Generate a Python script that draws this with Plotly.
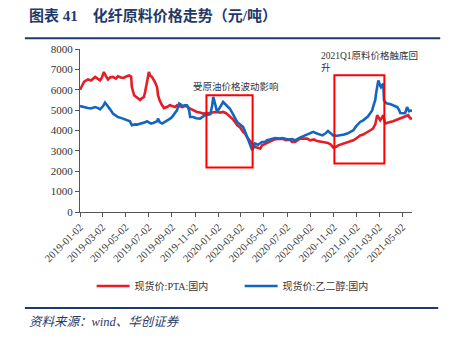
import plotly.graph_objects as go

pta_dates = ["2019-01-02","2019-01-05","2019-01-13","2019-01-23","2019-01-31","2019-02-11","2019-02-19","2019-02-24",
 "2019-03-01","2019-03-06","2019-03-12","2019-03-17","2019-03-22","2019-03-30","2019-04-07","2019-04-12","2019-04-20",
 "2019-04-26","2019-05-04","2019-05-12","2019-05-17","2019-05-19","2019-05-25","2019-05-30","2019-06-04","2019-06-10",
 "2019-06-15","2019-06-20","2019-06-23","2019-06-28","2019-07-03","2019-07-06","2019-07-11","2019-07-19","2019-07-25",
 "2019-07-27","2019-08-01","2019-08-07","2019-08-12","2019-08-20","2019-08-28","2019-09-02","2019-09-10","2019-09-15",
 "2019-09-23","2019-09-29","2019-10-07","2019-10-12","2019-10-20","2019-10-28","2019-11-07","2019-11-15","2019-11-23",
 "2019-12-04","2019-12-12","2019-12-20","2019-12-30","2020-01-07","2020-01-15","2020-01-23","2020-02-02","2020-02-10",
 "2020-02-21","2020-02-29","2020-03-08","2020-03-13","2020-03-18","2020-03-24","2020-04-01","2020-04-06","2020-04-08",
 "2020-04-16","2020-04-22","2020-04-27","2020-05-05","2020-05-13","2020-05-23","2020-05-31","2020-06-11","2020-06-19",
 "2020-06-29","2020-07-10","2020-07-15","2020-07-23","2020-08-05","2020-08-16","2020-08-24","2020-09-01","2020-09-11",
 "2020-09-19","2020-09-27","2020-10-08","2020-10-18","2020-10-26","2020-11-01","2020-11-09","2020-11-14","2020-11-24",
 "2020-12-08","2020-12-16","2020-12-24","2020-12-31","2021-01-11","2021-01-19","2021-01-29","2021-02-06","2021-02-14",
 "2021-02-20","2021-02-25","2021-03-02","2021-03-05","2021-03-10","2021-03-13","2021-03-18","2021-03-26","2021-03-31",
 "2021-04-08","2021-04-19","2021-04-27","2021-05-05","2021-05-13","2021-05-18","2021-05-23","2021-05-28"]
pta_vals = [6000,6130,6400,6510,6450,6630,6550,6460,
 6600,6870,6650,6510,6600,6630,6550,6660,6600,
 6580,6650,6700,6650,6130,5730,5650,5560,5500,
 5590,5650,5890,6300,6870,6700,6630,6380,6100,
 5730,5450,5240,5100,5150,5250,5200,5150,5240,
 5200,5150,5200,5180,5070,4980,4910,4880,4830,
 4850,4830,4900,4910,4880,4910,4850,4660,4550,
 4260,4150,3930,3850,3680,3550,3360,3250,3190,
 3150,3110,3270,3350,3440,3500,3570,3600,3600,
 3520,3550,3440,3440,3600,3580,3600,3520,3560,
 3480,3440,3420,3390,3300,3160,3200,3270,3330,
 3440,3480,3520,3600,3760,3800,3930,4000,4090,
 4300,4750,4600,4500,4650,4750,4340,4400,4420,
 4450,4530,4600,4660,4700,4750,4600,4580]

meg_dates = ["2019-01-02","2019-01-10","2019-01-23","2019-01-31","2019-02-11","2019-02-19","2019-02-24","2019-03-04",
 "2019-03-09","2019-03-14","2019-03-17","2019-03-22","2019-03-30","2019-04-07","2019-04-12","2019-04-20","2019-04-26",
 "2019-05-04","2019-05-09","2019-05-14","2019-05-19","2019-05-27","2019-06-02","2019-06-10","2019-06-15","2019-06-23",
 "2019-06-28","2019-07-03","2019-07-09","2019-07-14","2019-07-19","2019-07-25","2019-07-27","2019-08-01","2019-08-07",
 "2019-08-15","2019-08-20","2019-08-28","2019-09-02","2019-09-10","2019-09-15","2019-09-21","2019-09-26","2019-10-01",
 "2019-10-07","2019-10-12","2019-10-17","2019-10-20","2019-10-28","2019-11-05","2019-11-15","2019-11-23","2019-11-28",
 "2019-12-06","2019-12-12","2019-12-17","2019-12-20","2019-12-25","2019-12-30","2020-01-07","2020-01-15","2020-01-23",
 "2020-02-02","2020-02-10","2020-02-21","2020-02-29","2020-03-08","2020-03-13","2020-03-21","2020-03-26","2020-04-01",
 "2020-04-06","2020-04-08","2020-04-16","2020-04-27","2020-05-05","2020-05-10","2020-05-18","2020-05-31","2020-06-11",
 "2020-06-19","2020-06-27","2020-07-05","2020-07-15","2020-07-23","2020-08-05","2020-08-13","2020-08-24","2020-09-01",
 "2020-09-09","2020-09-19","2020-09-27","2020-10-03","2020-10-11","2020-10-18","2020-10-26","2020-11-01","2020-11-11",
 "2020-11-19","2020-11-30","2020-12-08","2020-12-16","2020-12-24","2020-12-31","2021-01-11","2021-01-19","2021-01-24",
 "2021-02-01","2021-02-06","2021-02-12","2021-02-14","2021-02-20","2021-02-22","2021-02-28","2021-03-05","2021-03-07",
 "2021-03-13","2021-03-15","2021-03-21","2021-03-23","2021-03-31","2021-04-06","2021-04-13","2021-04-19","2021-04-24",
 "2021-04-27","2021-05-05","2021-05-10","2021-05-15","2021-05-20","2021-05-28"]
meg_vals = [5200,5150,5100,5080,5150,5100,5040,5200,
 5370,5250,5150,5050,4830,4720,4660,4620,4580,
 4550,4500,4450,4260,4300,4290,4320,4340,4400,
 4450,4400,4340,4370,4400,4450,4580,4400,4340,
 4420,4500,4580,4660,4850,4990,5320,5250,5200,
 5250,5230,5000,4660,4660,4600,4580,4700,4750,
 4780,4800,5200,5650,5300,4910,5150,5400,5250,
 5070,4800,4420,4300,4170,3950,3520,3300,3030,
 3250,3360,3300,3440,3450,3520,3560,3630,3600,
 3630,3600,3560,3580,3520,3650,3720,3810,3850,
 3930,3850,3810,3760,3850,3980,3850,3760,3740,
 3760,3800,3850,3920,4010,4200,4420,4500,4580,
 4700,4830,5000,5150,5500,5810,6460,6200,6130,
 6300,5480,5350,5320,5300,5240,5200,5150,5000,
 4860,4850,4860,5150,4950,4990]

tick_dates = ["2019-01-02","2019-03-02","2019-05-02","2019-07-02","2019-09-02","2019-11-02",
              "2020-01-02","2020-03-02","2020-05-02","2020-07-02","2020-09-02","2020-11-02",
              "2021-01-02","2021-03-02","2021-05-02"]

series_names = ["现货价:PTA:国内", "现货价:乙二醇:国内"]

SERIF = "Liberation Serif, Noto Sans CJK SC, serif"
NAVY = "#1F3A6B"
RED = "#E41E26"
BLUE = "#1565C0"

fig = go.Figure()
fig.add_trace(go.Scatter(x=pta_dates, y=pta_vals, mode="lines", name=series_names[0],
                         line=dict(color=RED, width=2.6)))
fig.add_trace(go.Scatter(x=meg_dates, y=meg_vals, mode="lines", name=series_names[1],
                         line=dict(color=BLUE, width=2.6)))

# highlight boxes
fig.add_shape(type="rect", xref="x", yref="y", x0="2019-12-02", x1="2020-04-02", y0=2180, y1=5730,
              line=dict(color="#FF0000", width=2), fillcolor="rgba(0,0,0,0)")
fig.add_shape(type="rect", xref="x", yref="y", x0="2020-11-04", x1="2021-03-16", y0=2375, y1=6710,
              line=dict(color="#FF0000", width=2), fillcolor="rgba(0,0,0,0)")

# header / footer rules
fig.add_shape(type="line", xref="paper", yref="paper", x0=-0.166, x1=1.085, y0=1.066, y1=1.066,
              line=dict(color=NAVY, width=2))
fig.add_shape(type="line", xref="paper", yref="paper", x0=-0.166, x1=1.079, y0=-0.589, y1=-0.589,
              line=dict(color=NAVY, width=2))

fig.add_annotation(text="图表 41    化纤原料价格走势（元/吨）", xref="paper", yref="paper",
                   x=-0.16, y=1.207, xanchor="left", yanchor="middle", showarrow=False,
                   font=dict(family="Liberation Serif, Noto Sans CJK SC", size=15, color=NAVY, weight="bold"))
fig.add_annotation(text="<i>资料来源：wind、华创证券</i>", xref="paper", yref="paper",
                   x=-0.16, y=-0.677, xanchor="left", yanchor="middle", showarrow=False,
                   font=dict(family=SERIF, size=12.5, color=NAVY))
fig.add_annotation(text="受原油价格波动影响", xref="x", yref="y", x="2019-10-23", y=6184,
                   xanchor="left", yanchor="middle", showarrow=False,
                   font=dict(family=SERIF, size=9.5, color="#333333"))
fig.add_annotation(text="2021Q1原料价格触底回<br>升", xref="x", yref="y", x="2020-09-25", y=7406,
                   xanchor="left", yanchor="middle", showarrow=False, align="left",
                   font=dict(family=SERIF, size=9.5, color="#333333"))

fig.update_layout(
    width=453, height=340,
    margin=dict(l=80, r=41, t=49, b=128),
    paper_bgcolor="white", plot_bgcolor="white",
    showlegend=True,
    legend=dict(orientation="h", x=0.035, y=-0.454, xanchor="left", yanchor="middle",
                font=dict(family=SERIF, size=10, color="#333333"),
                entrywidth=100, entrywidthmode="pixels", itemwidth=33, bgcolor="rgba(0,0,0,0)"),
    font=dict(family=SERIF, color="#333333"),
)
fig.update_xaxes(type="date", range=["2019-01-02", "2021-05-28"], tickvals=tick_dates, ticktext=tick_dates,
                 tickangle=-45, showgrid=False, showline=True, linecolor="#555555", linewidth=1,
                 ticks="outside", ticklen=4, tickcolor="#555555",
                 tickfont=dict(family=SERIF, size=10.5, color="#333333"), zeroline=False)
fig.update_yaxes(range=[0, 8000], dtick=1000, showgrid=False, showline=True, linecolor="#555555", linewidth=1,
                 ticks="outside", ticklen=4, tickcolor="#555555",
                 tickfont=dict(family=SERIF, size=11, color="#333333"), zeroline=False)

fig.write_html("out.html")
